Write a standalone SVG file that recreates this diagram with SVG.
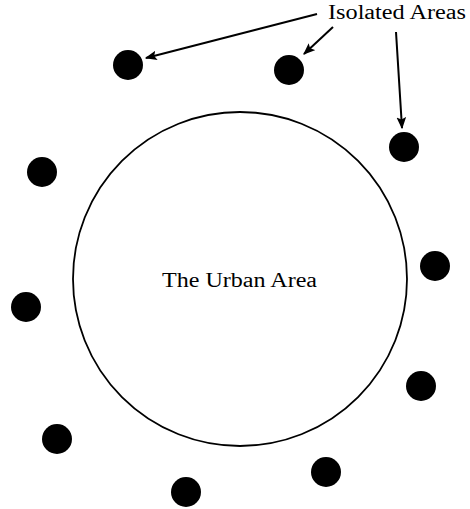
<svg xmlns="http://www.w3.org/2000/svg" width="470" height="509" viewBox="0 0 470 509">
<style>
.dot{fill:#000}
.lbl{font-family:"Liberation Serif","DejaVu Serif",serif;font-size:20px;fill:#000}
.conn{stroke:#000;stroke-width:2;fill:none;marker-end:url(#ah)}
</style>
<defs>
<marker id="ah" viewBox="0 0 10 10" refX="9" refY="5" markerWidth="6" markerHeight="6" orient="auto" markerUnits="strokeWidth">
<path d="M0,1 L10,5 L0,9 L2,5 Z" fill="#000"/>
</marker>
</defs>
<rect width="470" height="509" fill="#fff"/>
<g id="urban">
<circle cx="240" cy="279" r="167" fill="none" stroke="#000" stroke-width="1.8"/>
<text class="lbl" x="162" y="287" textLength="155" lengthAdjust="spacingAndGlyphs">The Urban Area</text>
</g>
<g id="label-isolated">
<text class="lbl" x="328" y="19" textLength="138" lengthAdjust="spacingAndGlyphs">Isolated Areas</text>
</g>
<g id="a1"><circle class="dot" cx="128" cy="65" r="15"/></g>
<g id="a2"><circle class="dot" cx="289" cy="70" r="15"/></g>
<g id="a3"><circle class="dot" cx="404" cy="147" r="15"/></g>
<g id="a4"><circle class="dot" cx="42" cy="172" r="15"/></g>
<g id="a5"><circle class="dot" cx="435" cy="266" r="15"/></g>
<g id="a6"><circle class="dot" cx="26" cy="307" r="15"/></g>
<g id="a7"><circle class="dot" cx="421" cy="386" r="15"/></g>
<g id="a8"><circle class="dot" cx="57" cy="439" r="15"/></g>
<g id="a9"><circle class="dot" cx="326" cy="472" r="15"/></g>
<g id="a10"><circle class="dot" cx="186" cy="492" r="15"/></g>
<g id="connectors">
<line class="conn" x1="317" y1="14" x2="146" y2="58"/>
<line class="conn" x1="333" y1="27" x2="304" y2="54"/>
<line class="conn" x1="396" y1="32" x2="402" y2="128"/>
</g>
</svg>
